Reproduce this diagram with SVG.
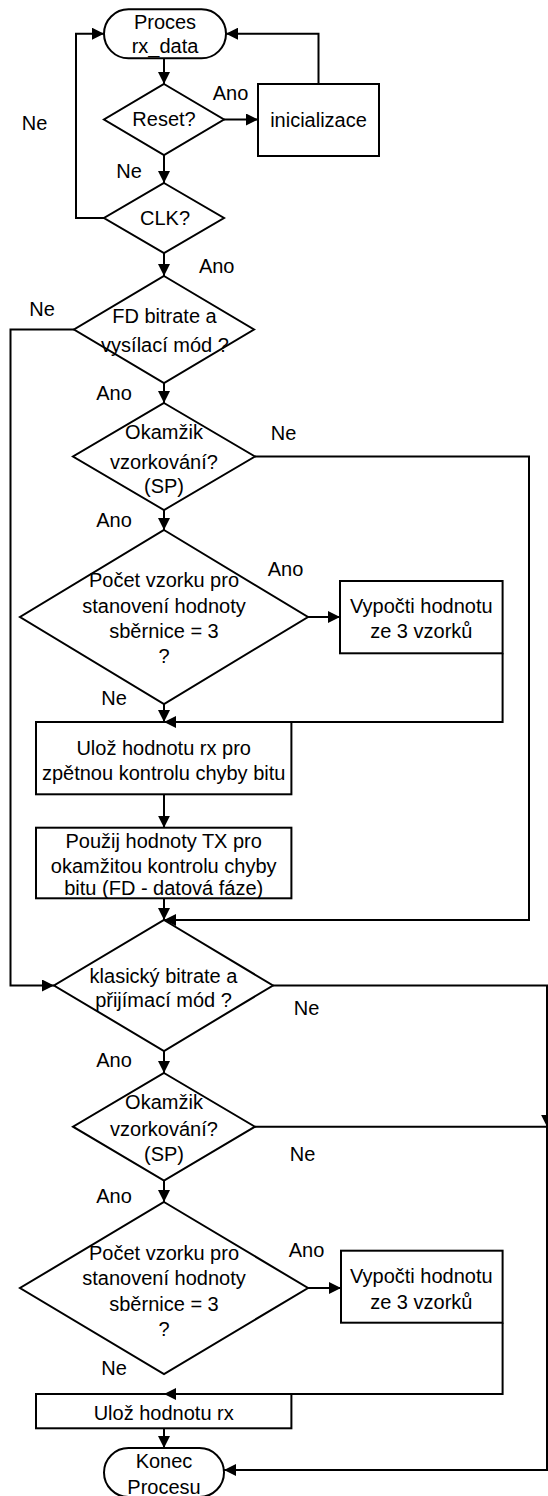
<svg xmlns="http://www.w3.org/2000/svg" width="548" height="1496" viewBox="0 0 548 1496">
  <defs>
    <marker id="ah" markerWidth="12" markerHeight="12" refX="12" refY="6" orient="auto" markerUnits="userSpaceOnUse">
      <path d="M0,0 L12,6 L0,12 z" fill="#000"/>
    </marker>
    <style>
      .shape { fill: #fff; stroke: #000; stroke-width: 2; }
      .line { fill: none; stroke: #000; stroke-width: 2; marker-end: url(#ah); }
      text { font-family: "Liberation Sans", Arial, sans-serif; font-size: 20px; fill: #000; text-anchor: middle; }
    </style>
  </defs>
  <rect width="548" height="1496" fill="#fff"/>

  <!-- start -->
  <g id="start">
    <rect class="shape" x="104" y="9.3" width="122" height="49" rx="24.5" ry="24.5"/>
    <text x="165" y="28.5">Proces</text>
    <text x="165" y="53">rx_data</text>
  </g>

  <g id="reset">
    <polygon class="shape" points="164,84 224,119.5 164,155 104,119.5"/>
    <text x="164" y="126">Reset?</text>
  </g>

  <g id="init">
    <rect class="shape" x="258" y="84" width="121" height="72"/>
    <text x="318.5" y="126.5">inicializace</text>
  </g>

  <g id="clk">
    <polygon class="shape" points="164,183 224,218 164,253 104,218"/>
    <text x="165" y="225">CLK?</text>
  </g>

  <g id="fd-mode">
    <polygon class="shape" points="164,276 254,329.5 164,383 74,329.5"/>
    <text x="164.5" y="323">FD bitrate a</text>
    <text x="165" y="351.5">vysílací mód ?</text>
  </g>

  <g id="sample-1">
    <polygon class="shape" points="164,403 255,456.5 164,510 73,456.5"/>
    <text x="164" y="439">Okamžik</text>
    <text x="164" y="469">vzorkování?</text>
    <text x="164" y="492.5">(SP)</text>
  </g>

  <g id="count-1">
    <polygon class="shape" points="164,530 308,617 164,704 20,617"/>
    <text x="164" y="586.5">Počet vzorku pro</text>
    <text x="164" y="612.5">stanovení hodnoty</text>
    <text x="164" y="637.5">sběrnice = 3</text>
    <text x="164" y="663">?</text>
  </g>

  <g id="calc-1">
    <rect class="shape" x="340" y="581" width="162.6" height="72.3"/>
    <text x="421.3" y="612.5">Vypočti hodnotu</text>
    <text x="421.3" y="637.5">ze 3 vzorků</text>
  </g>

  <g id="store-1">
    <rect class="shape" x="36" y="722" width="255.4" height="72.3"/>
    <text x="163.7" y="754.8">Ulož hodnotu rx pro</text>
    <text x="163.7" y="779.8">zpětnou kontrolu chyby bitu</text>
  </g>

  <g id="use-tx">
    <rect class="shape" x="36" y="827.7" width="255.4" height="70.6"/>
    <text x="163.7" y="847.5">Použij hodnoty TX pro</text>
    <text x="163.7" y="873">okamžitou kontrolu chyby</text>
    <text x="163.7" y="895">bitu (FD - datová fáze)</text>
  </g>

  <g id="classic-mode">
    <polygon class="shape" points="164,920 273,985.5 164,1051 54,985.5"/>
    <text x="163.5" y="982.5">klasický bitrate a</text>
    <text x="163.5" y="1006.5">přijímací mód ?</text>
  </g>

  <g id="sample-2">
    <polygon class="shape" points="164,1073 255,1126.7 164,1180.5 73,1126.7"/>
    <text x="164" y="1109">Okamžik</text>
    <text x="164" y="1136">vzorkování?</text>
    <text x="164" y="1160.5">(SP)</text>
  </g>

  <g id="count-2">
    <polygon class="shape" points="164,1202 308,1288 164,1374 20,1288"/>
    <text x="164" y="1259.5">Počet vzorku pro</text>
    <text x="164" y="1284.8">stanovení hodnoty</text>
    <text x="164" y="1310.5">sběrnice = 3</text>
    <text x="164" y="1335.8">?</text>
  </g>

  <g id="calc-2">
    <rect class="shape" x="341" y="1250.7" width="161.6" height="72"/>
    <text x="421.3" y="1283.2">Vypočti hodnotu</text>
    <text x="421.3" y="1309.2">ze 3 vzorků</text>
  </g>

  <g id="store-2">
    <rect class="shape" x="36" y="1394" width="255.4" height="34.3"/>
    <text x="163.7" y="1419.8">Ulož hodnotu rx</text>
  </g>

  <g id="end">
    <rect class="shape" x="104" y="1448" width="120" height="49" rx="24.5" ry="24.5"/>
    <text x="164" y="1468.2">Konec</text>
    <text x="164" y="1493.5">Procesu</text>
  </g>

  <!-- connectors, drawn over the node outlines so every arrowhead stays visible -->
  <g id="connectors">
    <path class="line" d="M164,58 V84"/>
    <path class="line" d="M224,119.5 H258"/>
    <path class="line" d="M318.5,84 V33.7 H226"/>
    <path class="line" d="M164,155 V183"/>
    <path class="line" d="M104,218 H76 V33.7 H104"/>
    <path class="line" d="M164,253 V276"/>
    <path class="line" d="M74,329.5 H10.5 V985.5 H54"/>
    <path class="line" d="M164,383 V403"/>
    <path class="line" d="M255,456.5 H529 V920 H164"/>
    <path class="line" d="M164,510 V530"/>
    <path class="line" d="M308,617 H340"/>
    <path class="line" d="M502.6,653.3 V722 H164"/>
    <path class="line" d="M164,704 V722"/>
    <path class="line" d="M164,794.3 V827.7"/>
    <path class="line" d="M164,898.3 V920"/>
    <path class="line" d="M273,985.5 H547 V1126.7"/>
    <path class="line" d="M164,1051 V1073"/>
    <path class="line" d="M255,1126.7 H547 V1470 H224"/>
    <path class="line" d="M164,1180.5 V1202"/>
    <path class="line" d="M308,1288 H341"/>
    <path class="line" d="M502.6,1322.7 V1394 H164"/>
    <path class="line" d="M164,1428.3 V1448"/>
  </g>

  <!-- branch labels -->
  <g id="labels">
    <text x="230.5" y="100">Ano</text>
    <text x="34.5" y="130">Ne</text>
    <text x="129" y="178">Ne</text>
    <text x="216.7" y="273">Ano</text>
    <text x="42" y="316">Ne</text>
    <text x="114" y="399.5">Ano</text>
    <text x="283.5" y="439.5">Ne</text>
    <text x="114" y="527">Ano</text>
    <text x="285.5" y="575.5">Ano</text>
    <text x="114" y="704.5">Ne</text>
    <text x="306.5" y="1014.5">Ne</text>
    <text x="114" y="1067">Ano</text>
    <text x="302.5" y="1160.5">Ne</text>
    <text x="114" y="1202.5">Ano</text>
    <text x="306.5" y="1257">Ano</text>
    <text x="114" y="1375">Ne</text>
  </g>
</svg>
